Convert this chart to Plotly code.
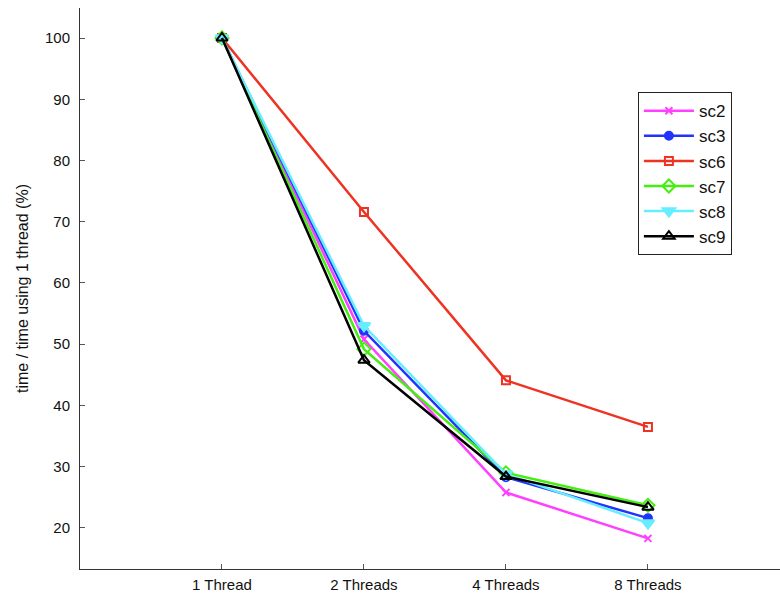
import plotly.graph_objects as go

# Thread counts on the x axis
categories = ["1 Thread", "2 Threads", "4 Threads", "8 Threads"]
positions = [1, 2, 3, 4]

# Run time relative to the single-thread run (%)
sc2 = [100, 50.8, 25.8, 18.3]
sc3 = [100, 52.2, 28.3, 21.6]
sc6 = [100, 71.6, 44.1, 36.5]
sc7 = [100, 49.2, 29.0, 23.7]
sc8 = [100, 53.0, 28.8, 20.8]
sc9 = [100, 47.4, 28.4, 23.4]

series = [
    ("sc2", sc2, "#ff40ff", "x-thin", 7),
    ("sc3", sc3, "#2233ff", "circle", 8),
    ("sc6", sc6, "#ee3322", "square-open", 8),
    ("sc7", sc7, "#44ee11", "diamond-open", 10),
    ("sc8", sc8, "#66eeff", "triangle-down", 11),
    ("sc9", sc9, "#000000", "triangle-up-open", 10),
]

fig = go.Figure()
for name, vals, color, symbol, size in series:
    fig.add_trace(go.Scatter(
        x=positions, y=vals, name=name, mode="lines+markers",
        line=dict(color=color, width=2.5),
        marker=dict(symbol=symbol, size=size, color=color,
                    line=dict(color=color, width=2)),
    ))

font_family = "Liberation Sans, Arial, sans-serif"
fig.update_layout(
    width=780, height=598,
    margin=dict(l=80, r=0, t=8, b=29),
    paper_bgcolor="white", plot_bgcolor="white",
    font=dict(family=font_family, size=15, color="#111111"),
    showlegend=True,
    legend=dict(
        x=0.797, y=0.85, xanchor="left", yanchor="top",
        bordercolor="#222222", borderwidth=1, bgcolor="white",
        font=dict(size=17, family=font_family),
        itemwidth=50, tracegroupgap=0,
    ),
)
fig.update_xaxes(
    range=[0, 4.93], tickmode="array", tickvals=positions, ticktext=categories,
    showgrid=False, zeroline=False, showline=True, linecolor="#333333", linewidth=1,
    ticks="inside", ticklen=5, tickcolor="#555555", tickfont=dict(size=15),
    ticklabelstandoff=2,
)
fig.update_yaxes(
    range=[13.3, 104.9], tickmode="array", tickvals=list(range(20, 101, 10)),
    showgrid=False, zeroline=False, showline=True, linecolor="#333333", linewidth=1,
    ticks="inside", ticklen=5, tickcolor="#555555", tickfont=dict(size=15),
    ticklabelstandoff=6,
    title=dict(text="time / time using 1 thread (%)", font=dict(size=16), standoff=12),
)

fig.write_html("out.html")
